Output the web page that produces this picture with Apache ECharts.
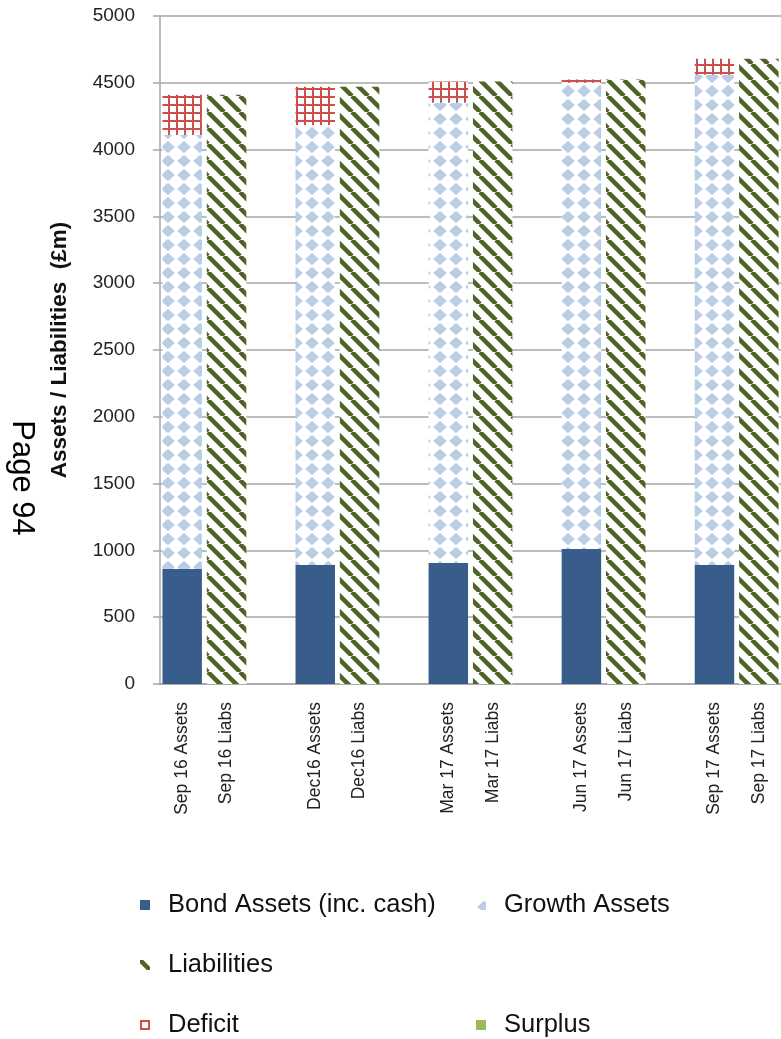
<!DOCTYPE html>
<html>
<head>
<meta charset="utf-8">
<script src="https://cdn.jsdelivr.net/npm/echarts@6/dist/echarts.min.js"></script>
<style>
  html, body { margin: 0; padding: 0; background: #fff; }
  #chart { width: 781px; height: 1039px; }
</style>
</head>
<body>
<div id="chart"></div>
<script>
  // categories (blank ones are the gaps between quarters)
  const categories = ['Sep 16 Assets', 'Sep 16 Liabs', '', 'Dec16 Assets', 'Dec16 Liabs', '',
    'Mar 17 Assets', 'Mar 17 Liabs', '', 'Jun 17 Assets', 'Jun 17 Liabs', '',
    'Sep 17 Assets', 'Sep 17 Liabs'];
  const bondAssets = [860, '-', '-', 890, '-', '-', 905, '-', '-', 1010, '-', '-', 890, '-'];
  const growthAssets = [3250, '-', '-', 3295, '-', '-', 3445, '-', '-', 3490, '-', '-', 3670, '-'];
  const deficit = [300, '-', '-', 285, '-', '-', 160, '-', '-', 25, '-', '-', 120, '-'];
  const surplus = [0, '-', '-', 0, '-', '-', 0, '-', '-', 0, '-', '-', 0, '-'];
  const liabilities = ['-', 4410, '-', '-', 4470, '-', '-', 4510, '-', '-', 4525, '-', '-', 4680];
  const yMin = 0, yMax = 5000, yStep = 500;

  const FONT = '"Liberation Sans", Arial, sans-serif';
  const GREY = '#a6a6a6';

  function tile(w, h, draw) {
    const c = document.createElement('canvas');
    c.width = w; c.height = h;
    const ctx = c.getContext('2d');
    ctx.fillStyle = '#fff';
    ctx.fillRect(0, 0, w, h);
    draw(ctx, w, h);
    return c;
  }

  // diamond pattern for growth assets
  const growthTile = tile(16, 14, function (ctx) {
    ctx.fillStyle = '#b9cde5';
    ctx.beginPath();
    ctx.moveTo(8, 0.8); ctx.lineTo(14.8, 7); ctx.lineTo(8, 13.2); ctx.lineTo(1.2, 7);
    ctx.closePath(); ctx.fill();
  });
  // wide downward diagonal for liabilities
  const liabTile = tile(16, 16, function (ctx) {
    ctx.strokeStyle = '#4f6228';
    ctx.lineWidth = 4.5;
    [-16, 0, 16].forEach(function (o) {
      ctx.beginPath(); ctx.moveTo(o, 0); ctx.lineTo(o + 16, 16); ctx.stroke();
    });
  });
  // grid pattern for deficit
  const deficitTile = tile(8, 8, function (ctx) {
    ctx.fillStyle = '#cd4f4c';
    ctx.fillRect(0, 0, 2, 8);
    ctx.fillRect(0, 0, 8, 2);
  });

  const pat = function (c) { return { image: c, repeat: 'repeat' }; };

  const legendBase = {
    icon: 'rect', itemWidth: 10, itemHeight: 10, padding: 0,
    textStyle: { fontFamily: FONT, fontSize: 25.5, lineHeight: 28, color: '#111', padding: [0, 0, 0, 13] }
  };

  const option = {
    animation: false,
    backgroundColor: '#fff',
    grid: { left: 160, top: 16, width: 627, height: 668 },
    legend: [
      Object.assign({ data: ['Bond Assets (inc. cash)'], left: 140, top: 891 }, legendBase),
      Object.assign({ data: ['Growth Assets'], left: 476, top: 891 }, legendBase),
      Object.assign({ data: ['Liabilities'], left: 140, top: 951 }, legendBase),
      Object.assign({ data: ['Deficit'], left: 140, top: 1011 }, legendBase),
      Object.assign({ data: ['Surplus'], left: 476, top: 1011 }, legendBase)
    ],
    graphic: [{
      type: 'text', x: 22, y: 478, rotation: -Math.PI / 2,
      style: { text: 'Page 94', font: '31px ' + FONT, fill: '#000', align: 'center', verticalAlign: 'middle' }
    }],
    xAxis: {
      type: 'category',
      data: categories,
      axisLine: { lineStyle: { color: GREY, width: 1.5 } },
      axisTick: { show: false },
      axisLabel: { interval: 0, rotate: 90, margin: 18, fontFamily: FONT, fontSize: 17.5, color: '#222' }
    },
    yAxis: {
      type: 'value', min: yMin, max: yMax, interval: yStep,
      name: 'Assets / Liabilities  (£m)',
      nameLocation: 'middle', nameGap: 89,
      nameTextStyle: { fontFamily: FONT, fontWeight: 'bold', fontSize: 22.5, color: '#111' },
      axisLine: { show: true, lineStyle: { color: GREY, width: 1.5 } },
      axisTick: { show: true, length: 7, lineStyle: { color: GREY, width: 1.5 } },
      splitLine: { lineStyle: { color: GREY, width: 1.5 } },
      axisLabel: { margin: 25, fontFamily: FONT, fontSize: 19, color: '#222',
        formatter: function (v) { return String(v); } }
    },
    series: [
      { name: 'Bond Assets (inc. cash)', type: 'bar', stack: 'all', barCategoryGap: '11%',
        data: bondAssets, itemStyle: { color: '#385d8a' } },
      { name: 'Growth Assets', type: 'bar', stack: 'all', data: growthAssets,
        itemStyle: { color: pat(growthTile) } },
      { name: 'Liabilities', type: 'bar', stack: 'all', data: liabilities,
        itemStyle: { color: pat(liabTile) } },
      { name: 'Deficit', type: 'bar', stack: 'all', data: deficit,
        itemStyle: { color: pat(deficitTile) } },
      { name: 'Surplus', type: 'bar', stack: 'all', data: surplus,
        itemStyle: { color: '#9bbb59' } }
    ]
  };

  const chart = echarts.init(document.getElementById('chart'), null, { renderer: 'canvas' });
  chart.setOption(option);
</script>
</body>
</html>
